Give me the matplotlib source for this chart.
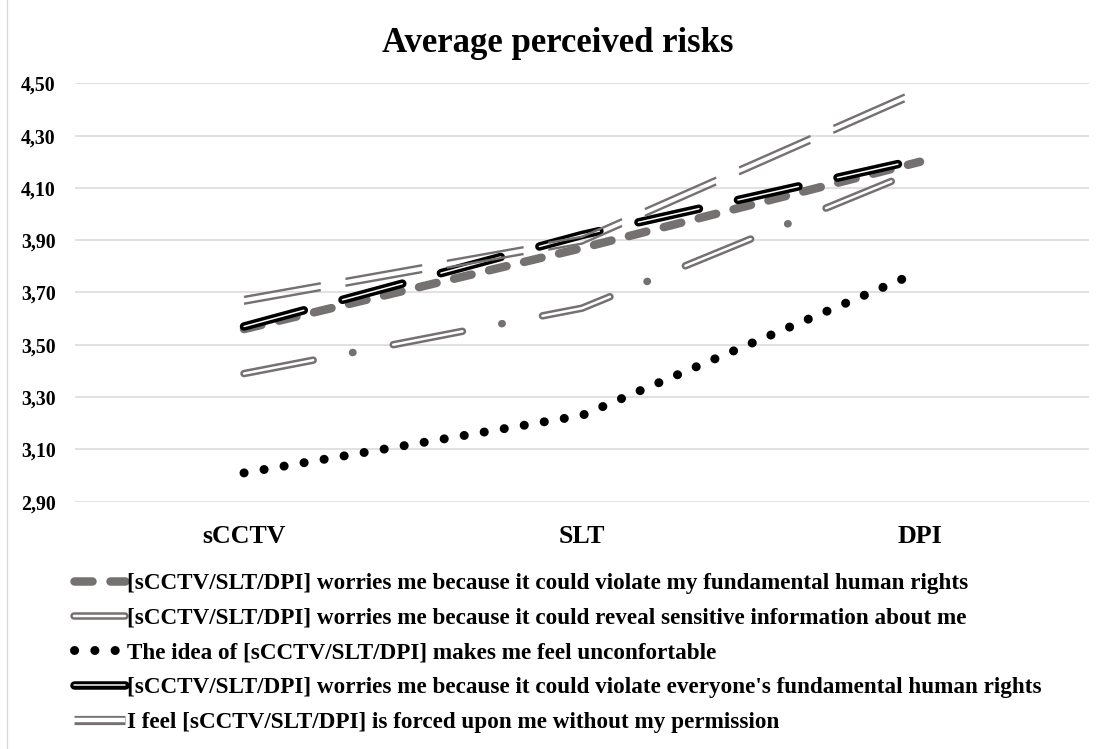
import numpy as np
import matplotlib.pyplot as plt
from matplotlib.ticker import FuncFormatter
from matplotlib.legend_handler import HandlerTuple
from matplotlib.lines import Line2D
from matplotlib.transforms import ScaledTranslation

plt.rcParams['font.family'] = ['Liberation Serif', 'DejaVu Serif']
plt.rcParams['font.weight'] = 'bold'
plt.rcParams['lines.scale_dashes'] = False

categories = ['sCCTV', 'SLT', 'DPI']
human_rights_me = [3.56, 3.87, 4.20]
sensitive_info = [3.39, 3.64, 4.17]
uncomfortable = [3.01, 3.23, 3.78]
human_rights_all = [3.57, 3.92, 4.21]
forced_upon = [3.67, 3.90, 4.47]
y_ticks = np.linspace(2.90, 4.50, 9)

labels = [
    "[sCCTV/SLT/DPI] worries me because it could violate my fundamental human rights",
    "[sCCTV/SLT/DPI] worries me because it could reveal sensitive information about me",
    "The idea of [sCCTV/SLT/DPI] makes me feel unconfortable",
    "[sCCTV/SLT/DPI] worries me because it could violate everyone's fundamental human rights",
    "I feel [sCCTV/SLT/DPI] is forced upon me without my permission",
]

GRAY = '#767171'
PX = 0.72  # pixel -> point at 100 dpi

fig = plt.figure(figsize=(11.02, 7.49), dpi=100)
ax = fig.add_axes([75 / 1102, 1 - 501.7 / 749, 1014 / 1102, 418.4 / 749])
x = list(range(len(categories)))

# series 1: thick gray dashes
l1, = ax.plot(x, human_rights_me, color=GRAY, lw=8.5 * PX,
              linestyle=(0, (18 * PX, 18 * PX)), dash_capstyle='round')

# series 2: hollow gray long dash dot
dd2 = (70.5 * PX, 40 * PX, 0.5 * PX, 41 * PX)
l2o, = ax.plot(x, sensitive_info, color=GRAY, lw=7.5 * PX,
               linestyle=(0, dd2), dash_capstyle='round', solid_capstyle='round')
l2i, = ax.plot(x, sensitive_info, color='white', lw=2.5 * PX,
               linestyle=(0, (70.5 * PX, 81.5 * PX)), dash_capstyle='round',
               solid_capstyle='round')

# series 3: round dots
l3, = ax.plot(x, uncomfortable, color='black', lw=9 * PX,
              linestyle=(0, (0.1, 20.3 * PX - 0.1)), dash_capstyle='round')

# series 4: hollow black long dash
dd4 = (62 * PX, 40 * PX)
l4o, = ax.plot(x, human_rights_all, color='black', lw=8.5 * PX,
               linestyle=(0, dd4), dash_capstyle='round', solid_capstyle='round')
l4i, = ax.plot(x, human_rights_all, color='white', lw=1.5 * PX,
               linestyle=(0, dd4), dash_capstyle='round', solid_capstyle='round')

# series 5: double gray long dash
for dy in (3.4, -3.4):
    ax.plot(x, forced_upon, color=GRAY, lw=2.4 * PX,
            linestyle=(0, (78 * PX, 25 * PX)), dash_capstyle='butt',
            transform=ax.transData + ScaledTranslation(0, dy / 100, fig.dpi_scale_trans))
p5o = Line2D([], [], color=GRAY, lw=9.2 * PX, solid_capstyle='butt')
p5i = Line2D([], [], color='white', lw=4.4 * PX, solid_capstyle='butt')

ax.set_xlim(-0.5, 2.5)
ax.set_ylim(2.90, 4.50)
ax.set_xticks(x)
ax.set_xticklabels(categories)
ax.set_yticks(y_ticks)
ax.yaxis.set_major_formatter(FuncFormatter(lambda v, p: f"{v:.2f}".replace('.', ',')))
ax.tick_params(axis='both', length=0)
ax.tick_params(axis='y', pad=14, labelsize=14.3)
ax.tick_params(axis='x', pad=17, labelsize=18.6)
ax.yaxis.grid(True, color='#d9d9d9', lw=1.1)
ax.set_axisbelow(True)
for s in ax.spines.values():
    s.set_visible(False)

fig.text(0.5065, 1 - 52 / 749, 'Average perceived risks', ha='center',
         va='baseline', fontsize=25, fontweight='bold')

handles = [(l1,), (l2o, l2i), (l3,), (l4o, l4i), (p5o, p5i)]
ax.legend(handles, labels, handler_map={tuple: HandlerTuple(ndivide=1, pad=0)},
          loc='upper left', bbox_to_anchor=(74 / 1102, 1 - 573 / 749),
          bbox_transform=fig.transFigure, frameon=False, fontsize=16.7,
          handlelength=2.2, handletextpad=0.1, labelspacing=0.58,
          borderpad=0, borderaxespad=0)

fig.add_artist(Line2D([6.5 / 1102] * 2, [0, 1], transform=fig.transFigure,
                      color='#d9d9d9', lw=1))

fig.savefig('out.png', dpi=100)
